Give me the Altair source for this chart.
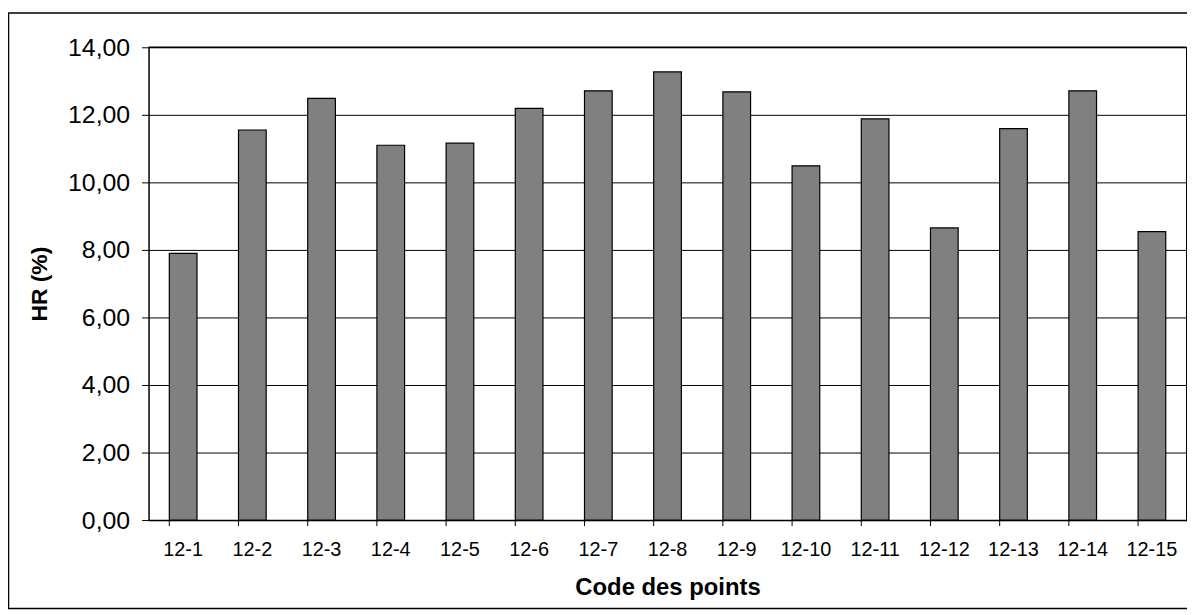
import altair as alt
import pandas as pd

codes = ["12-1", "12-2", "12-3", "12-4", "12-5", "12-6", "12-7", "12-8",
         "12-9", "12-10", "12-11", "12-12", "12-13", "12-14", "12-15"]
hr = [7.90, 11.55, 12.49, 11.10, 11.16, 12.19, 12.71, 13.27,
      12.68, 10.49, 11.88, 8.65, 11.59, 12.71, 8.54]
y_ticks = [0, 2, 4, 6, 8, 10, 12, 14]

df = pd.DataFrame({"code": codes, "hr": hr})

W, H = 1045, 476
FONT = "Liberation Sans"

xenc = alt.X("code:N", sort=codes, title="Code des points",
             scale=alt.Scale(paddingInner=0.6, paddingOuter=0.3),
             axis=alt.Axis(labelAngle=0, labelFontSize=20, labelFont=FONT, labelColor="black",
                           labelBaseline="alphabetic",
                           ticks=True, tickSize=6, tickOpacity=0,
                           domain=True, domainColor="black", domainWidth=1.5,
                           labelPadding=30, titleFont=FONT, titleFontSize=24,
                           titleFontWeight="bold", titleColor="black",
                           titleBaseline="alphabetic", titleY=75))

bars = alt.Chart(df).mark_bar(color="#808080", stroke="black", strokeWidth=1.2).encode(
    x=xenc,
    y=alt.Y("hr:Q", title="HR (%)",
            scale=alt.Scale(domain=[0, 14], nice=False),
            axis=alt.Axis(values=y_ticks,
                          labelExpr="replace(format(datum.value, '.2f'), '.', ',')",
                          labelFontSize=25, labelFont=FONT, labelColor="black",
                          grid=True, gridColor="black", gridWidth=1,
                          domainColor="black", domainWidth=1.5,
                          tickColor="black", tickSize=7, labelPadding=12,
                          titleFont=FONT, titleFontSize=23, titleFontWeight="bold",
                          titleColor="black", titleBaseline="alphabetic", titleX=-103)),
)

ticks = alt.Chart(df).mark_rule(color="black", strokeWidth=1).encode(
    x=alt.X("code:N", sort=codes, bandPosition=0),
    y=alt.value(H), y2=alt.value(H + 6),
)
top_line = alt.Chart(df.head(1)).mark_rule(color="black", strokeWidth=1.5).encode(
    x=alt.value(0), x2=alt.value(W), y=alt.value(0),
)
right_line = alt.Chart(df.head(1)).mark_rule(color="black", strokeWidth=1).encode(
    x=alt.value(W), y=alt.value(0), y2=alt.value(H),
)
border = alt.Chart(df.head(1)).mark_rect(fill=None, stroke="black", strokeWidth=1.5).encode(
    x=alt.value(-141), x2=alt.value(W + 20), y=alt.value(-34.5), y2=alt.value(565),
)

chart = alt.layer(bars, ticks, top_line, right_line, border).properties(
    width=W, height=H,
    autosize=alt.AutoSizeParams(type="none"),
    padding={"left": 141.5, "top": 37.5, "right": 0.5, "bottom": 92},
    background="white",
).configure_view(stroke=None)

chart.save("out.html", embed_options={"renderer": "svg", "actions": False})
